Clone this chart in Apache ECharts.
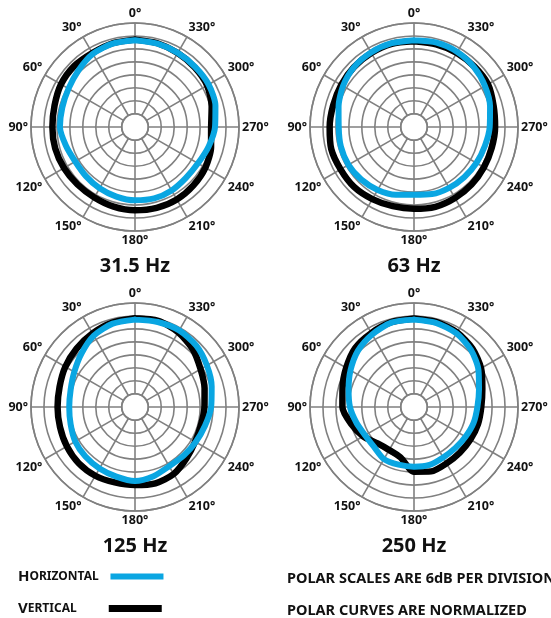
<!DOCTYPE html>
<html>
<head>
<meta charset="utf-8">
<script src="https://cdn.jsdelivr.net/npm/echarts@6/dist/echarts.min.js"></script>
<style>
html,body{margin:0;padding:0;background:#fff;}
#c{width:551px;height:618px;}
</style>
</head>
<body>
<div id="c"></div>
<script>
// Angles (degrees) at which the curves were read
const angles = [0,15,30,45,60,75,90,105,120,135,150,165,180,195,210,225,240,255,270,285,300,315,330,345];
// Angle-axis tick labels
const angleTicks = [0,30,60,90,120,150,180,210,240,270,300,330];
// Chart titles
const titles = ['31.5 Hz', '63 Hz', '125 Hz', '250 Hz'];
// Levels in dB (normalized)
const horiz31 = [-2.0,-2.2,-3.1,-5.1,-6.6,-7.3,-7.4,-9.0,-10.2,-10.0,-9.4,-8.8,-8.2,-7.9,-8.2,-8.8,-8.5,-6.9,-5.1,-3.6,-2.8,-2.8,-2.5,-2.2];
const vert31  = [-1.7,-2.0,-2.6,-2.3,-2.6,-3.6,-3.9,-3.9,-4.2,-4.5,-4.5,-4.0,-3.6,-3.4,-3.4,-3.9,-4.5,-5.7,-6.9,-5.4,-3.6,-3.1,-2.6,-2.0];
const horiz63 = [-2.0,-2.0,-2.3,-2.9,-4.2,-6.0,-7.3,-7.1,-7.1,-7.7,-8.5,-9.7,-10.8,-10.0,-9.6,-9.3,-8.8,-8.2,-7.1,-5.7,-4.2,-2.9,-2.0,-1.7];
const vert63  = [-2.5,-2.3,-2.6,-2.9,-3.2,-3.4,-3.1,-2.5,-2.9,-2.9,-3.6,-4.2,-4.3,-3.9,-4.2,-4.5,-4.8,-4.9,-4.6,-4.0,-2.6,-2.6,-2.5,-2.5];
const horiz125 = [-1.7,-2.2,-4.0,-7.1,-9.7,-11.3,-11.7,-11.3,-10.2,-9.7,-9.3,-8.8,-7.9,-9.0,-10.5,-10.3,-9.7,-8.6,-6.9,-5.4,-3.7,-2.0,-1.2,-1.4];
const vert125  = [-1.1,-1.7,-2.8,-3.9,-4.9,-6.0,-6.3,-6.2,-5.7,-5.3,-5.4,-6.0,-6.0,-5.6,-6.3,-8.5,-10.0,-10.5,-10.0,-8.8,-7.1,-4.3,-2.2,-0.8];
const horiz250 = [-1.7,-1.7,-3.4,-5.4,-8.2,-10.8,-12.5,-14.5,-16.0,-16.0,-14.3,-14.5,-14.5,-14.4,-15.2,-15.2,-14.6,-13.6,-12.8,-11.0,-7.7,-4.8,-2.8,-1.9];
const vert250  = [-1.2,-1.5,-2.6,-3.6,-5.9,-7.9,-9.0,-12.0,-15.0,-18.3,-19.2,-18.0,-12.2,-11.3,-12.0,-12.2,-12.0,-11.5,-11.0,-9.4,-6.3,-3.9,-2.3,-1.5];

const horizSets = [horiz31, horiz63, horiz125, horiz250];
const vertSets  = [vert31, vert63, vert125, vert250];

const BLUE = '#0aa6e2';
const GRID = '#808080';
const FONT = 'Noto Sans';
const centers = [[135,127],[414,127],[135,407],[414,407]];

function toData(vals){
  const d = vals.map((v,i)=>[v, angles[i]]);
  d.push([vals[0], 360]);
  return d;
}

const polar = centers.map(c => ({center: c, radius: [13.3, 104]}));
const angleAxis = centers.map((c,i) => ({
  polarIndex: i, type: 'value', min: 0, max: 360, interval: 30,
  startAngle: 90, clockwise: false,
  axisLine: {show: true, lineStyle: {color: GRID, width: 1.6}},
  axisTick: {show: false},
  splitLine: {show: true, lineStyle: {color: GRID, width: 1.6}},
  axisLabel: {
    margin: 3, color: '#111', fontFamily: FONT, fontWeight: 'bold', fontSize: 12.5,
    formatter: v => (angleTicks.indexOf(v) >= 0 ? v + '°' : '')
  }
}));
const radiusAxis = centers.map((c,i) => ({
  polarIndex: i, type: 'value', min: -36, max: 6, interval: 6,
  axisLine: {show: false}, axisTick: {show: false}, axisLabel: {show: false},
  splitLine: {show: true, lineStyle: {color: GRID, width: 1.6}}
}));

const series = [];
centers.forEach((c,i) => {
  series.push({
    name: 'Vertical', type: 'line', coordinateSystem: 'polar', polarIndex: i,
    data: toData(vertSets[i]), symbol: 'none', smooth: 0.25, silent: true,
    lineStyle: {color: '#000', width: 6.5, join: 'round', cap: 'round'},
    itemStyle: {color: '#000'}, z: 3
  });
  series.push({
    name: 'Horizontal', type: 'line', coordinateSystem: 'polar', polarIndex: i,
    data: toData(horizSets[i]), symbol: 'none', smooth: 0.25, silent: true,
    lineStyle: {color: BLUE, width: 6, join: 'round', cap: 'round'},
    itemStyle: {color: BLUE}, z: 4
  });
});

const capStyle = {fontSize: 15, fontWeight: 'bold', fontFamily: FONT, color: '#111', lineHeight: 16, align: 'left'};
const smStyle = {fontSize: 12, fontWeight: 'bold', fontFamily: FONT, color: '#111', lineHeight: 16, align: 'left'};
const legendRich = {
  cap: capStyle,
  hs: Object.assign({}, smStyle, {width: 76}),
  vs: Object.assign({}, smStyle, {width: 76})
};
const legendName = {Horizontal: '{cap|H}{hs|ORIZONTAL}', Vertical: '{cap|V}{vs|ERTICAL}'};

const legend = [
  {data: ['Horizontal'], left: 18, top: 569, icon: 'rect', itemWidth: 53, itemHeight: 6,
   align: 'right', selectedMode: false, formatter: n => legendName[n],
   textStyle: {rich: legendRich, align: 'left'}, padding: 0},
  {data: ['Vertical'], left: 18, top: 601, icon: 'rect', itemWidth: 53, itemHeight: 7,
   align: 'right', selectedMode: false, formatter: n => legendName[n],
   textStyle: {rich: legendRich, align: 'left'}, padding: 0}
];

const graphic = titles.map((t,i) => ({
  type: 'text', x: centers[i][0], y: centers[i][1] + 139,
  style: {text: t, fontFamily: FONT, fontWeight: 'bold', fontSize: 20, fill: '#111',
          align: 'center', verticalAlign: 'middle'}
}));
graphic.push({type: 'text', x: 287, y: 579,
  style: {text: 'POLAR SCALES ARE 6dB PER DIVISION', fontFamily: FONT, fontWeight: 'bold', fontSize: 14.5, fill: '#111', align: 'left', verticalAlign: 'middle'}});
graphic.push({type: 'text', x: 287, y: 611,
  style: {text: 'POLAR CURVES ARE NORMALIZED', fontFamily: FONT, fontWeight: 'bold', fontSize: 14.5, fill: '#111', align: 'left', verticalAlign: 'middle'}});

const chart = echarts.init(document.getElementById('c'));
chart.setOption({
  animation: false,
  backgroundColor: '#fff',
  polar, angleAxis, radiusAxis, series, legend, graphic
});
</script>
</body>
</html>
